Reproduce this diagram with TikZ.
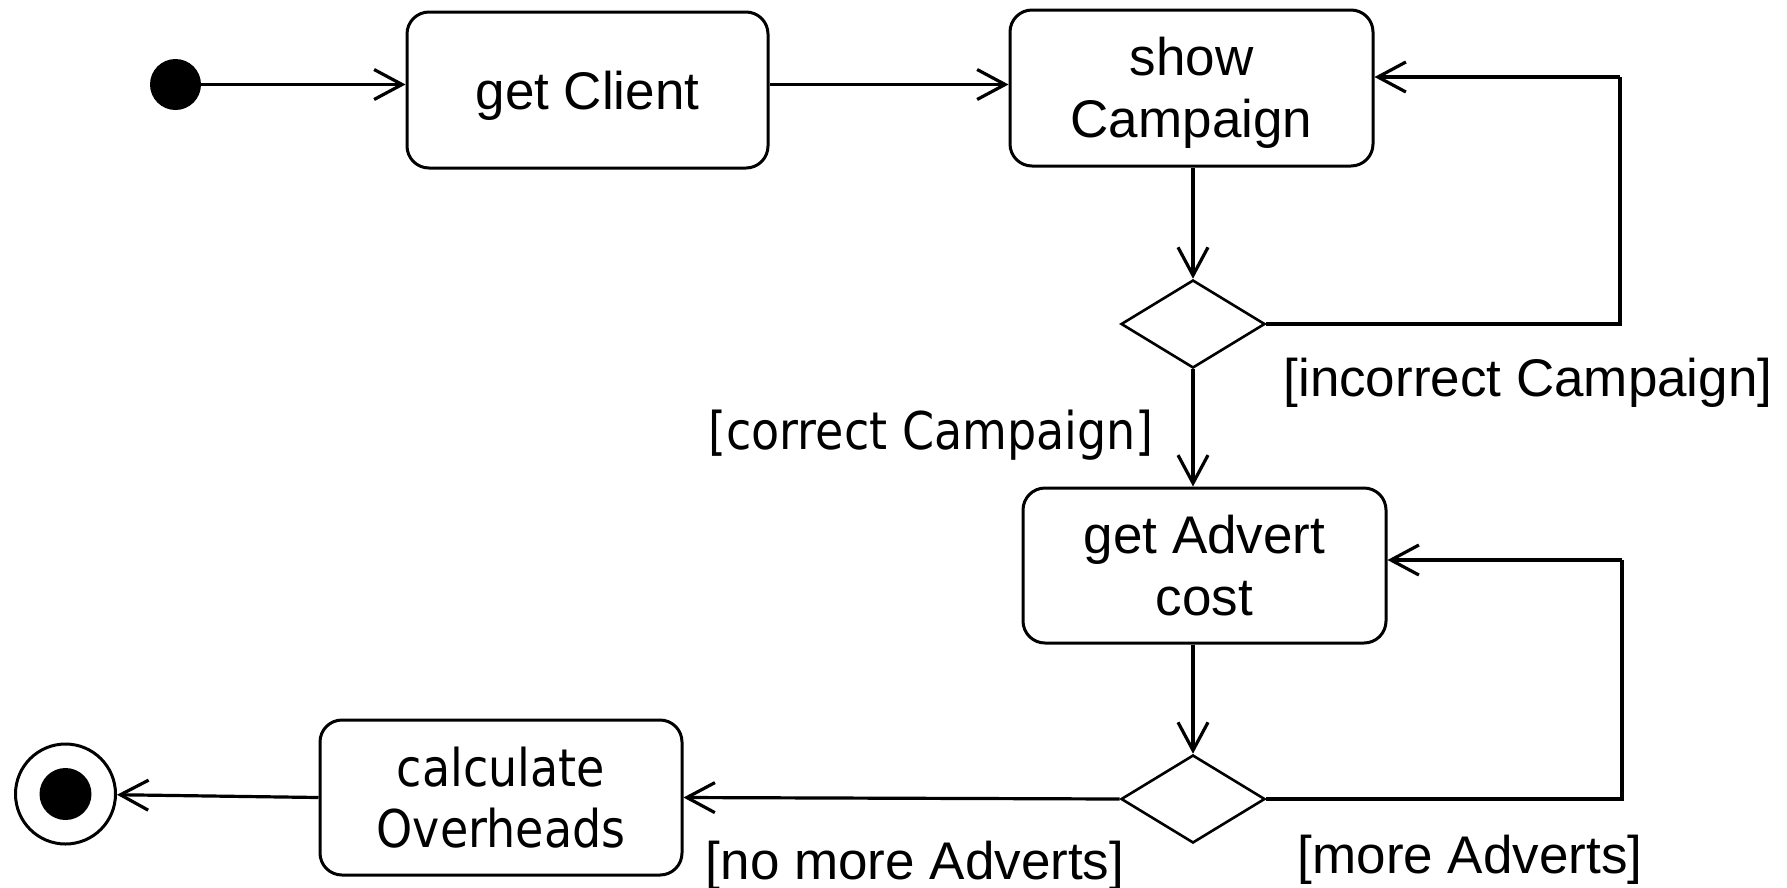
\documentclass[tikz,border=0pt]{standalone}
\usepackage{fontspec}
\usetikzlibrary{arrows.meta,shapes.geometric}
\newfontfamily\boxfont{Liberation Sans}
\newfontfamily\tahfont[FakeStretch=0.885]{DejaVu Sans}
\tikzset{
  action/.style={draw, line width=3pt, rounded corners=22pt, inner sep=0pt,
    align=center, font=\boxfont\fontsize{53pt}{62pt}\selectfont},
  choice/.style={draw, diamond, line width=2.6pt, inner sep=0pt,
    minimum width=144pt, minimum height=88pt},
  flow/.style={line width=3.2pt, -{Straight Barb[length=28pt,width=30pt]}},
  link/.style={line width=3.2pt},
  guard/.style={anchor=base, inner sep=0pt, font=\boxfont\fontsize{53pt}{61pt}\selectfont},
  guardalt/.style={anchor=base, inner sep=0pt, font=\tahfont\fontsize{52pt}{61pt}\selectfont},
}
\begin{document}
\begin{tikzpicture}[x=1pt, y=-1pt]
\useasboundingbox (0,0) rectangle (1787,887);

% start and end states
\node[circle, fill, inner sep=0pt, minimum size=51pt] (init) at (175.5,84.5) {};
\node[circle, draw, line width=3pt, inner sep=0pt, minimum size=100pt] (fin) at (65.5,794) {};
\node[circle, fill, inner sep=0pt, minimum size=52pt] (fincore) at (fin) {};

% actions
\node[action, minimum width=361pt, minimum height=156pt, text depth=0pt] (gc) at (587.5,90) {get Client};
\node[action, minimum width=363pt, minimum height=156pt, text depth=2pt] (sc) at (1191.5,88) {show\\Campaign};
\node[action, minimum width=363pt, minimum height=155pt] (ga) at (1204.5,565.5) {get Advert\\cost};
\node[action, minimum width=362pt, minimum height=155pt, font=\tahfont\fontsize{52pt}{61pt}\selectfont] (co) at (501,797.5) {calculate\\Overheads};

% decisions
\node[choice] (d1) at (1193,324) {};
\node[choice] (d2) at (1193,799) {};

% loop corners
\coordinate (loopA) at (1620,77);
\coordinate (loopB) at (1622,560);

% transitions
\draw[flow] (init) -- (gc.west |- init);
\draw[flow] (gc.east |- init) -- (sc.west |- init);
\draw[flow] (d1.north |- sc.south) -- (d1.north);
\draw[link] (d1.east) -| (loopA);
\draw[flow] (loopA) -- (sc.east |- loopA);
\draw[flow] (d1.south) -- (d1.south |- ga.north);
\draw[flow] (d2.north |- ga.south) -- (d2.north);
\draw[link] (d2.east) -| (loopB);
\draw[flow] (loopB) -- (ga.east |- loopB);
\draw[flow] (d2.west) -- (co.east);
\draw[flow] (co.west) -- (fin);

% guards
\node[guard] (gIncorrect) at (1528,396) {[incorrect Campaign]};
\node[guardalt] (gCorrect) at (931,449) {[correct Campaign]};
\node[guard] (gNoMore) at (915,879) {[no more Adverts]};
\node[guard] (gMore) at (1470,873) {[more Adverts]};
\end{tikzpicture}
\end{document}
